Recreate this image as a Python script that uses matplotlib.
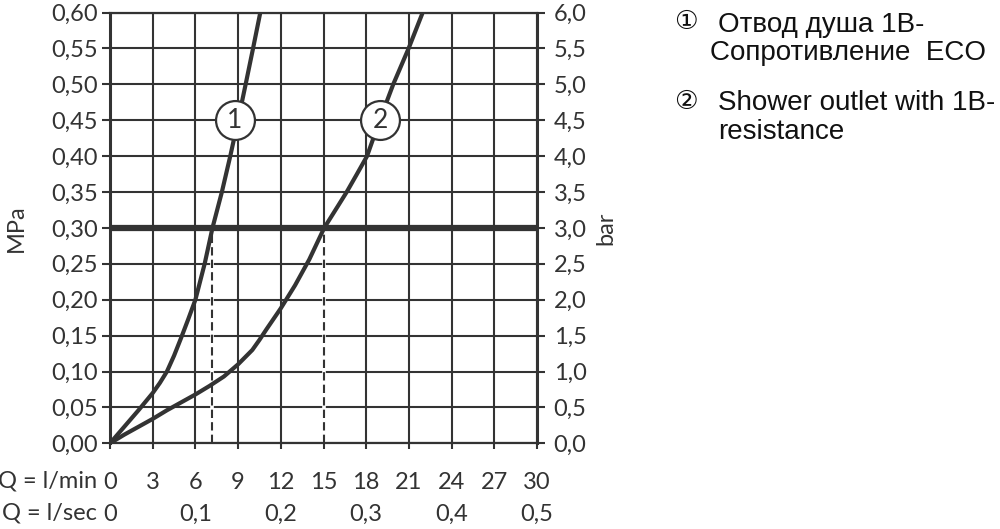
import matplotlib
matplotlib.use("Agg")
import matplotlib.pyplot as plt
import numpy as np

# ---- data ----
q_ticks_min = [0, 3, 6, 9, 12, 15, 18, 21, 24, 27, 30]
q_ticks_sec = [0, 0.1, 0.2, 0.3, 0.4, 0.5]
mpa_ticks = [0.00, 0.05, 0.10, 0.15, 0.20, 0.25, 0.30, 0.35, 0.40, 0.45, 0.50, 0.55, 0.60]
bar_ticks = [0.0, 0.5, 1.0, 1.5, 2.0, 2.5, 3.0, 3.5, 4.0, 4.5, 5.0, 5.5, 6.0]

curve1_q = [0, 1.0, 2.0, 3.0, 3.5, 4.0, 4.5, 5.0, 5.5, 6.0, 6.65, 7.2, 7.86, 8.45, 9.0, 9.53, 10.05, 10.56]
curve1_p = [0, 0.023, 0.046, 0.07, 0.084, 0.10, 0.122, 0.147, 0.173, 0.20, 0.25, 0.30, 0.35, 0.40, 0.45, 0.50, 0.55, 0.60]

curve2_q = [0, 1, 2, 3, 4, 5, 6, 7, 8, 9, 10, 10.5, 11, 12, 13, 14, 15.05, 16.0, 16.63, 17.35, 18.06, 18.95, 19.9, 20.98, 21.97]
curve2_p = [0, 0.012, 0.023, 0.034, 0.046, 0.057, 0.068, 0.080, 0.093, 0.110, 0.130, 0.144, 0.159, 0.188, 0.22, 0.256, 0.30, 0.33, 0.35, 0.375, 0.40, 0.45, 0.50, 0.55, 0.60]

ref_pressure = 0.30
ref_flows = [7.15, 15.0]
label_pos_q = [8.78, 19.0]
label_pos_p = [0.45, 0.45]
label_text = ["1", "2"]

legend_syms = ["\u2460", "\u2461"]
legend_l1 = ["Отвод душа 1B-", "Shower outlet with 1B-"]
legend_l2 = ["Сопротивление  ECO", "resistance"]

# ---- style ----
C = "#333333"
TF = ["Lato", "DejaVu Sans"]
FS = 17

fig = plt.figure(figsize=(10, 5.29), dpi=100)
W, H = 1000, 529
x0, x1, ytop, ybot = 110, 537, 12.5, 443.3
ax = fig.add_axes([x0 / W, 1 - ybot / H, (x1 - x0) / W, (ybot - ytop) / H])
ax.set_xlim(0, 30)
ax.set_ylim(0, 0.6)

ax.set_xticks(q_ticks_min)
ax.set_xticklabels([str(v) for v in q_ticks_min], family=TF, fontsize=FS, color=C)
ax.set_yticks(mpa_ticks)
ax.set_yticklabels([f"{v:.2f}".replace(".", ",") for v in mpa_ticks], family=TF, fontsize=FS, color=C)
ax.grid(True, color=C, lw=1.5, zorder=1)
ax.set_axisbelow(True)
for s in ax.spines.values():
    s.set_color(C)
    s.set_linewidth(1.6)
ax.spines["left"].set_linewidth(2.2)
ax.spines["right"].set_linewidth(2.2)
ax.tick_params(axis="y", direction="out", length=6, width=1.5, color=C, pad=3)
ax.tick_params(axis="x", direction="out", length=4, width=1.5, color=C, pad=16.5)

ax2 = ax.twinx()
ax2.set_ylim(0, 6)
ax2.set_yticks(bar_ticks)
ax2.set_yticklabels([f"{v:.1f}".replace(".", ",") for v in bar_ticks], family=TF, fontsize=FS, color=C)
ax2.tick_params(axis="y", direction="out", length=6, width=1.5, color=C, pad=6)
for s in ax2.spines.values():
    s.set_visible(False)

ax.set_ylabel("MPa", family=TF, fontsize=FS, color=C, labelpad=17)
ax2.set_ylabel("bar", family=TF, fontsize=FS, color=C, rotation=90, labelpad=6)

sec = ax.secondary_xaxis(-0.140, functions=(lambda x: x / 60.0, lambda x: x * 60.0))
sec.set_xticks(q_ticks_sec)
sec.set_xticklabels(["0" if v == 0 else f"{v:.1f}".replace(".", ",") for v in q_ticks_sec],
                    family=TF, fontsize=FS, color=C)
sec.tick_params(length=0, pad=0)
sec.spines["bottom"].set_visible(False)

ax.text(-0.03, -0.0885, "Q = l/min", transform=ax.transAxes, ha="right", va="center",
        family=TF, fontsize=FS, color=C)
ax.text(-0.03, -0.162, "Q = l/sec", transform=ax.transAxes, ha="right", va="center",
        family=TF, fontsize=FS, color=C)

# reference line and dashed drops
ax.axhline(ref_pressure, color=C, lw=4.5, zorder=3)
for q in ref_flows:
    ax.plot([q, q], [0.002, ref_pressure], color="white", lw=2.6, zorder=2.5)
    ax.plot([q, q], [0, ref_pressure], color=C, lw=1.5, ls=(0, (4, 2)), zorder=3)

ax.plot(curve1_q, curve1_p, color=C, lw=3, zorder=4, solid_capstyle="butt", solid_joinstyle="round")
ax.plot(curve2_q, curve2_p, color=C, lw=3, zorder=4, solid_capstyle="butt", solid_joinstyle="round")

for q, p, t in zip(label_pos_q, label_pos_p, label_text):
    ax.plot([q], [p], marker="o", ms=28, mfc="white", mec=C, mew=1.6, zorder=5, clip_on=False)
    ax.text(q, p, t, ha="center", va="center", family=TF, fontsize=19, color=C, zorder=6)

# legend text
LF = ["Liberation Sans", "DejaVu Sans"]
ys = [(22, 31.5, 60.5), (101.5, 109.5, 139)]
x2 = [710, 718]
for i, (yc, yb1, yb2) in enumerate(ys):
    fig.text(686 / W, 1 - yc / H, legend_syms[i], ha="center", va="center", family=["DejaVu Sans"],
             fontsize=19, color="#111111")
    fig.text(718 / W, 1 - yb1 / H, legend_l1[i], ha="left", va="baseline", family=LF, fontsize=20, color="#111111")
    fig.text(x2[i] / W, 1 - yb2 / H, legend_l2[i], ha="left", va="baseline", family=LF, fontsize=20, color="#111111")

fig.savefig("out.png", dpi=100)
